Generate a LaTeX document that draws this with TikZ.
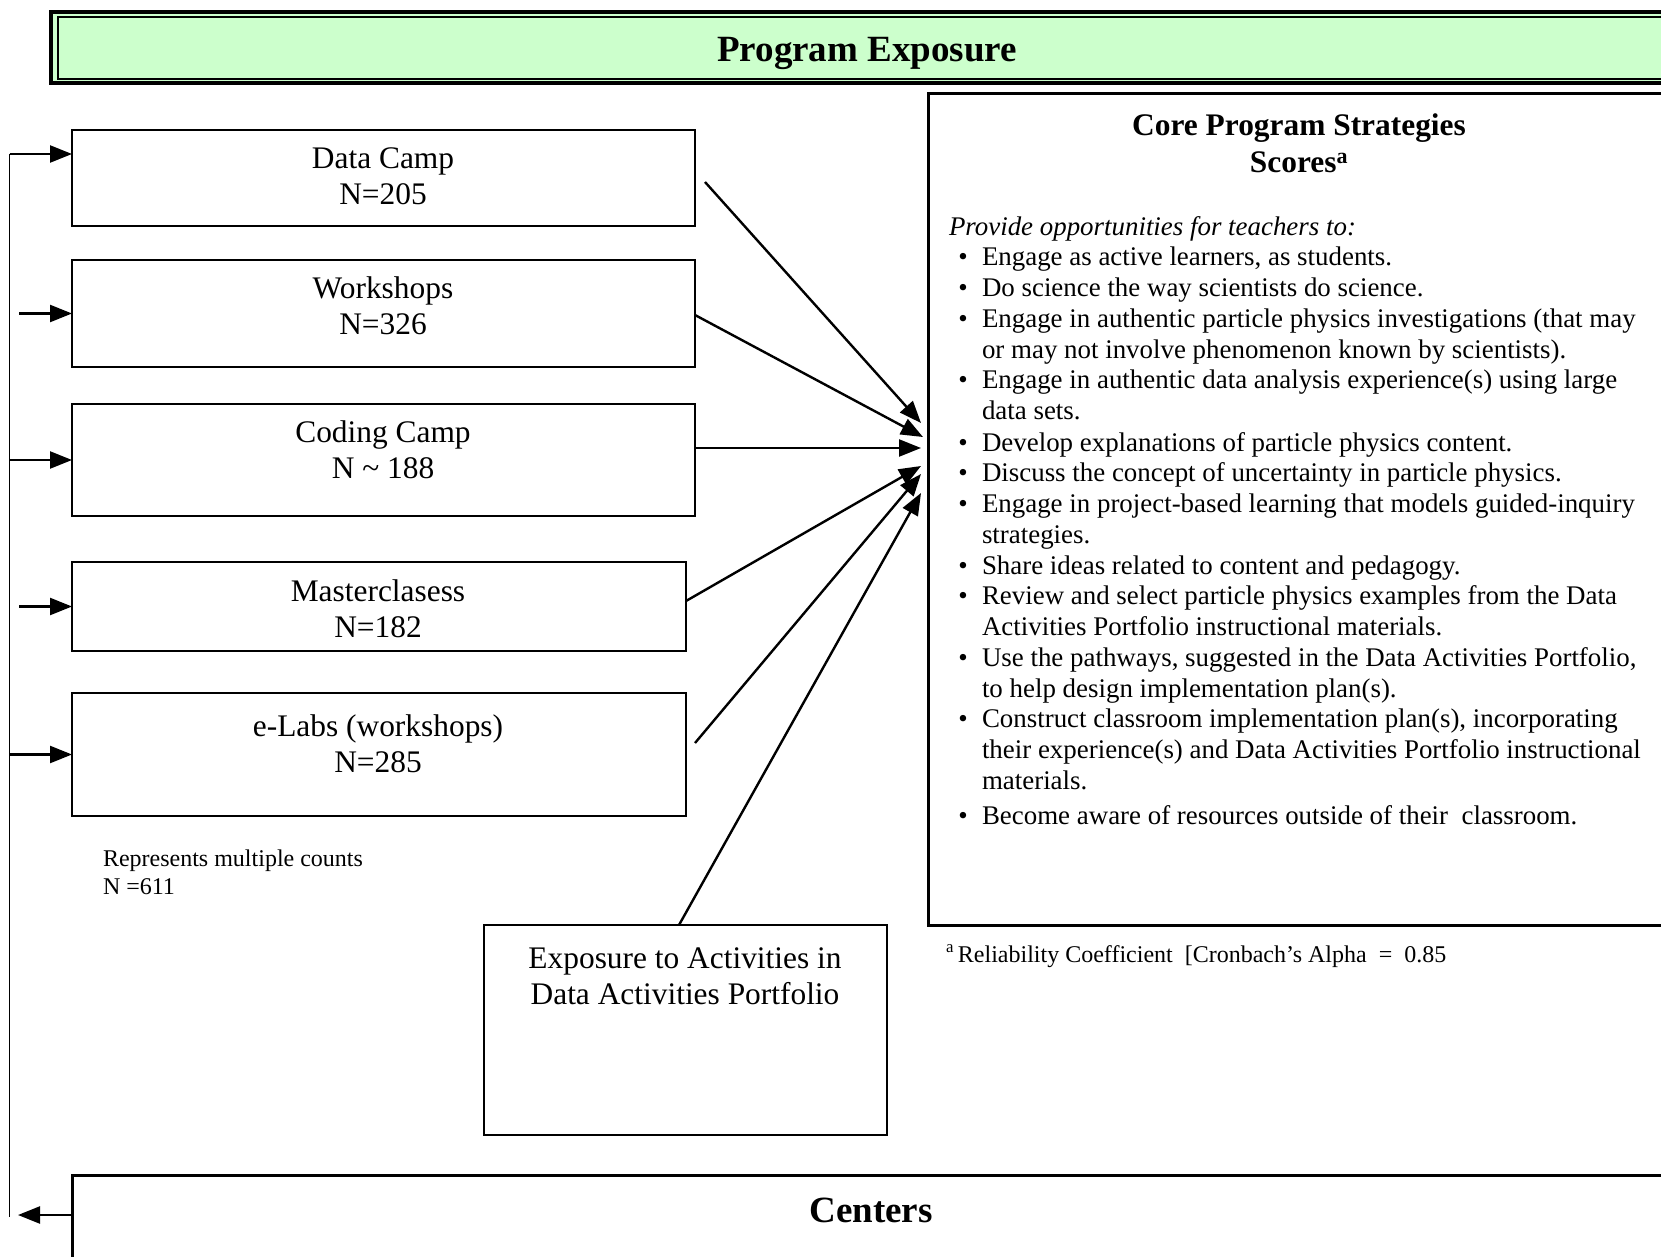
\documentclass[tikz,border=0pt]{standalone}
\usepackage{fontspec}
\setmainfont{Liberation Serif}
\usetikzlibrary{arrows.meta,calc}
\definecolor{bannergreen}{HTML}{CCFFCC}
\begin{document}
\begin{tikzpicture}[x=1pt,y=-1pt,
  every node/.style={inner sep=0pt, outer sep=0pt},
  box/.style={draw, line width=2.2pt, anchor=north west},
  boxtext/.style={anchor=base, font=\fontsize{31.4}{36}\selectfont},
  listtext/.style={anchor=base west, font=\fontsize{26.9}{30.8}\selectfont},
  smalltext/.style={anchor=base west, font=\fontsize{24}{28}\selectfont},
  heading/.style={anchor=base, font=\fontsize{37}{42}\selectfont\bfseries},
  arr/.style={line width=2.4pt, -{Triangle[length=22pt,width=17pt]}},
  feed/.style={line width=1.4pt}
]
\useasboundingbox (0,0) rectangle (1661,1257);
\clip (0,0) rectangle (1661,1257);

% top banner with double frame
\node[draw, line width=4pt, fill=bannergreen, anchor=north west,
      minimum width=1700pt, minimum height=71pt] (banner) at (51,12) {};
\draw[line width=1.4pt] ($(banner.north west)+(7,5)$) rectangle ($(banner.south east)+(0,-4)$);
\node[heading] (bannertext) at (867,62) {Program Exposure};

% program activity boxes
\node[box, minimum width=623pt, minimum height=96pt]  (dc) at (72,130) {};
\node[box, minimum width=623pt, minimum height=107pt] (ws) at (72,260) {};
\node[box, minimum width=623pt, minimum height=112pt] (cc) at (72,404) {};
\node[box, minimum width=614pt, minimum height=89pt]  (mc) at (72,562) {};
\node[box, minimum width=614pt, minimum height=123pt] (el) at (72,693) {};
\node[box, minimum width=403pt, minimum height=210pt] (ex) at (484,925) {};

\node[boxtext] (dct1) at (383,169) {Data Camp};
\node[boxtext] (dct2) at (383,205) {N=205};
\node[boxtext] (wst1) at (383,298) {Workshops};
\node[boxtext] (wst2) at (383,334) {N=326};
\node[boxtext] (cct1) at (383,442) {Coding Camp};
\node[boxtext] (cct2) at (383,478) {N \textasciitilde{} 188};
\node[boxtext] (mct1) at (378,601) {Masterclasess};
\node[boxtext] (mct2) at (378,637) {N=182};
\node[boxtext] (elt1) at (378,736) {e-Labs (workshops)};
\node[boxtext] (elt2) at (378,772) {N=285};
\node[boxtext] (ext1) at (685,968) {Exposure to Activities in};
\node[boxtext] (ext2) at (685,1004) {Data Activities Portfolio};

\node[smalltext] (note1) at (103,866) {Represents multiple counts};
\node[smalltext] (note2) at (103,894) {N =611};

% core strategies box
\node[draw, line width=3pt, anchor=north west,
      minimum width=800pt, minimum height=831pt] (core) at (928,94) {};
\node[boxtext, font=\fontsize{31.4}{36}\selectfont\bfseries] (coret1) at (1299,136) {Core Program Strategies};
\node[boxtext, font=\fontsize{31.4}{36}\selectfont\bfseries] (coret2) at (1299,173) {Scores\textsuperscript{a}};
\node[listtext] (intro) at (949,235.5) {\itshape Provide opportunities for teachers to:};

\foreach \yy/\bb/\tx [count=\i] in {
  265.8/1/{Engage as active learners, as students.},
  296.6/1/{Do science the way scientists do science.},
  327.3/1/{Engage in authentic particle physics investigations (that may},
  358.0/0/{or may not involve phenomenon known by scientists).},
  388.7/1/{Engage in authentic data analysis experience(s) using large},
  419.5/0/{data sets.},
  451.2/1/{Develop explanations of particle physics content.},
  481.9/1/{Discuss the concept of uncertainty in particle physics.},
  512.7/1/{Engage in project-based learning that models guided-inquiry},
  543.4/0/{strategies.},
  574.1/1/{Share ideas related to content and pedagogy.},
  604.8/1/{Review and select particle physics examples from the Data},
  635.5/0/{Activities Portfolio instructional materials.},
  666.3/1/{Use the pathways, suggested in the Data Activities Portfolio,},
  697.0/0/{to help design implementation plan(s).},
  727.7/1/{Construct classroom implementation plan(s), incorporating},
  758.4/0/{their experience(s) and Data Activities Portfolio instructional},
  789.2/0/{materials.},
  824.1/1/{Become aware of resources outside of their\ \ classroom.}}
{
  \ifnum\bb=1
    \node[listtext, anchor=base] (bullet\i) at (963,\yy) {•};
  \fi
  \node[listtext] (item\i) at (982,\yy) {\tx};
}

\node[smalltext] (footnote) at (946,962)
  {\textsuperscript{a}\,Reliability Coefficient\ \ [Cronbach’s Alpha\ \ =\ \ 0.85};

% centers box at the bottom
\node[draw, line width=3pt, anchor=north west,
      minimum width=1700pt, minimum height=200pt] (centers) at (72,1175) {};
\node[heading] (centerstext) at (871,1222) {Centers};

% feedback loop from the centers back to every activity
\coordinate (ftop) at (9.5,154);
\coordinate (fbot) at (9.5,1217);
\draw[feed] (ftop) -- (fbot);
\draw[arr] ($(centers.north west)+(0,40)$) -- ($(centers.north west)+(-54,40)$);
\draw[arr] (ftop) -- ($(dc.west)+(0,-24)$);
\draw[arr] ($(ws.west)+(-53,0)$) -- (ws.west);
\draw[arr] ($(cc.west)+(-62.5,0)$) -- (cc.west);
\draw[arr] ($(mc.west)+(-53,0)$) -- (mc.west);
\draw[arr] ($(el.west)+(-62.5,0)$) -- (el.west);

% activities feeding the core strategies
\draw[arr] ($(dc.east)+(10,4)$)    -- ($(core.north west)+(-7,329)$);
\draw[arr] ($(ws.east)+(0,1.5)$)   -- ($(core.north west)+(-5,343)$);
\draw[arr] ($(cc.east)+(0,-12)$)   -- ($(core.north west)+(-7,354)$);
\draw[arr] ($(mc.east)+(0,-5.5)$)  -- ($(core.north west)+(-7,372)$);
\draw[arr] ($(el.east)+(9,-11.5)$) -- ($(core.north west)+(-7,380)$);
\draw[arr] ($(ex.north)+(-6.5,0)$) -- ($(core.north west)+(-7,399)$);
\end{tikzpicture}
\end{document}
